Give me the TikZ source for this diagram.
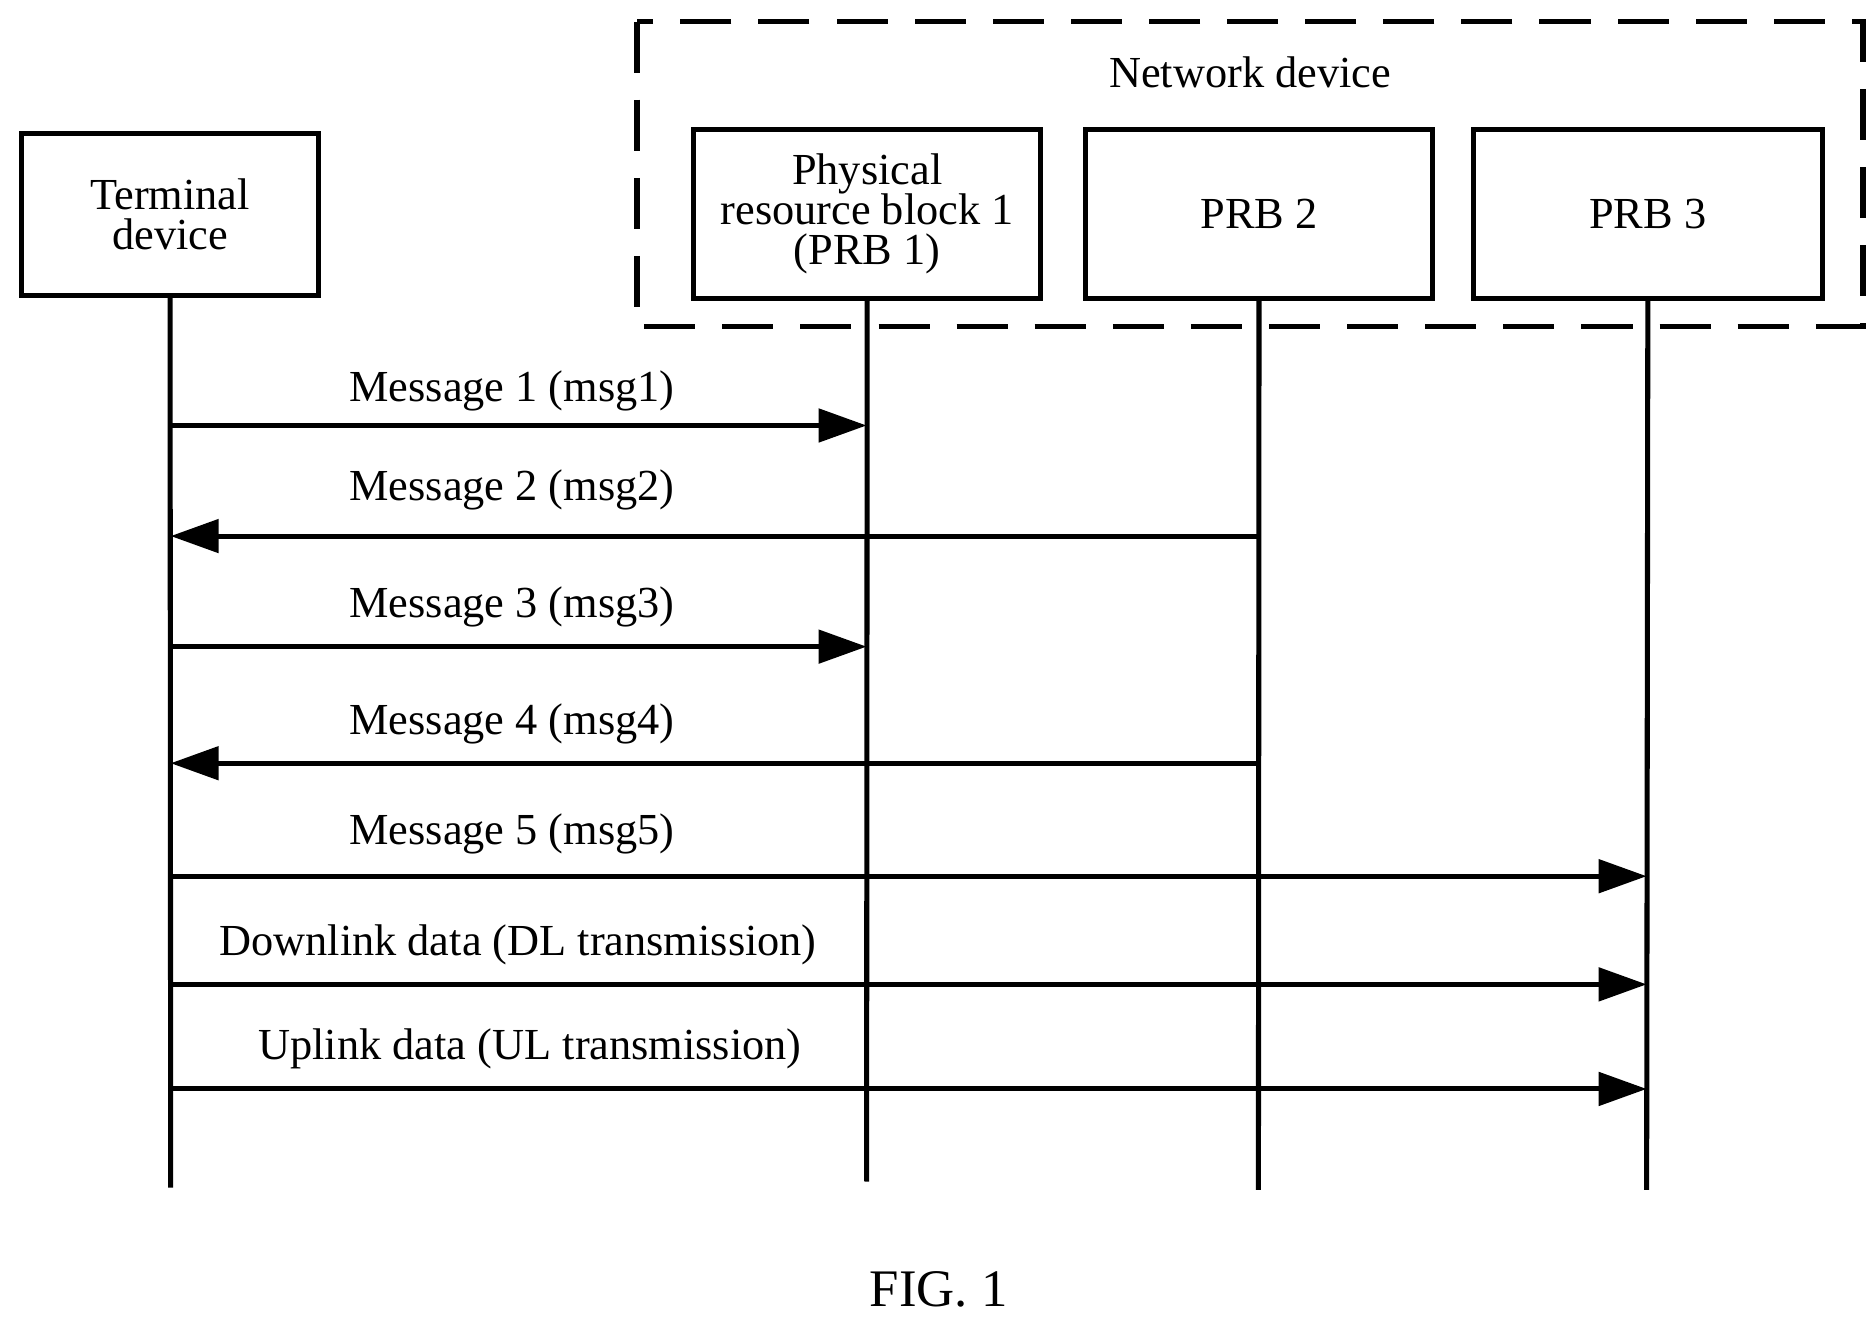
\documentclass[tikz,border=0pt]{standalone}
\usepackage{fontspec}
\setmainfont{Liberation Serif}
\usetikzlibrary{arrows.meta}
\begin{document}
\begin{tikzpicture}[x=0.02cm,y=-0.02cm,
  box/.style={draw,line width=2.4pt,inner sep=0pt,align=center,font=\fontsize{21}{23}\selectfont},
  life/.style={line width=2.4pt},
  msg/.style={line width=2.4pt,-{Triangle[length=0.8cm,width=0.55cm]}},
  lbl/.style={font=\fontsize{21}{23}\selectfont}]
\useasboundingbox (0,0) rectangle (1560,1099);
\draw[line width=2.4pt,dash pattern=on 0.85cm off 0.45cm] (530,18) rectangle (1550,272);
\node[lbl] (nd) at (1040,60) {Network device};
\node[box,minimum width=4.94cm,minimum height=2.7cm] (t) at (141.5,178.5) {Terminal\\[-4pt]device};
\node[box,minimum width=5.78cm,minimum height=2.8cm] (p1) at (721.5,178) {Physical\\[-4pt]resource block 1\\[-4pt](PRB 1)};
\node[box,minimum width=5.78cm,minimum height=2.8cm] (p2) at (1047.5,178) {PRB 2};
\node[box,minimum width=5.8cm,minimum height=2.8cm] (p3) at (1371,178) {PRB 3};
\coordinate (te) at (142,988);
\coordinate (p1e) at (721,983);
\coordinate (p2e) at (1047,990);
\coordinate (p3e) at (1370,990);
\draw[life] (t.south) -- (te);
\draw[life] (p1.south) -- (p1e);
\draw[life] (p2.south) -- (p2e);
\draw[life] (p3.south) -- (p3e);
\foreach \n/\y in {1/354,2/446,3/538,4/635,5/729,6/819,7/906}{
  \coordinate (a\n) at (142,\y); \coordinate (b\n) at (721,\y);
  \coordinate (c\n) at (1047,\y); \coordinate (d\n) at (1370,\y);}
\draw[msg] (a1) -- (b1);
\draw[msg] (c2) -- (a2);
\draw[msg] (a3) -- (b3);
\draw[msg] (c4) -- (a4);
\draw[msg] (a5) -- (d5);
\draw[msg] (a6) -- (d6);
\draw[msg] (a7) -- (d7);
\node[lbl] (l1) at (426,325) {Message 1 (msg1)};
\node[lbl] (l2) at (426,408) {Message 2 (msg2)};
\node[lbl] (l3) at (426,505) {Message 3 (msg3)};
\node[lbl] (l4) at (426,602) {Message 4 (msg4)};
\node[lbl] (l5) at (426,694) {Message 5 (msg5)};
\node[lbl] (l6) at (431,786) {Downlink data (DL transmission)};
\node[lbl] (l7) at (441,873) {Uplink data (UL transmission)};
\node[font=\fontsize{25}{28}\selectfont] (fig) at (781,1073) {FIG. 1};
\end{tikzpicture}
\end{document}
